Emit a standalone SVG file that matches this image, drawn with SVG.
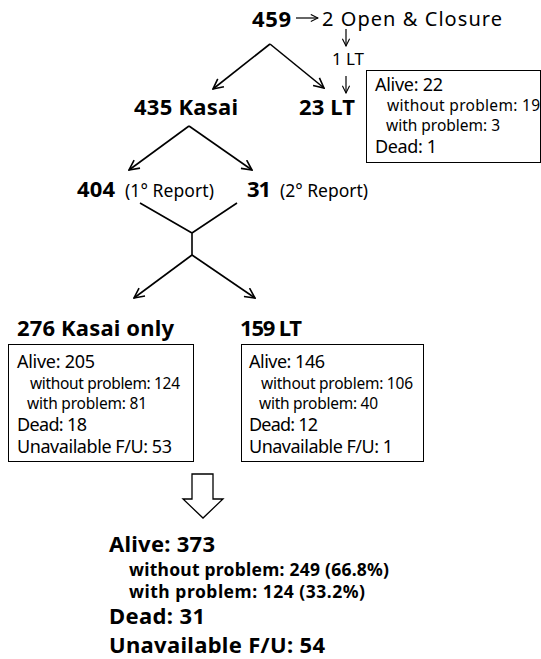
<svg xmlns="http://www.w3.org/2000/svg" width="541" height="659" viewBox="0 0 541 659">
<defs>
<marker id="ah" viewBox="0 0 12 12" refX="11" refY="6" markerWidth="12" markerHeight="12" markerUnits="userSpaceOnUse" orient="auto">
<path d="M1,1 L11,6 L1,11" fill="none" stroke="#000" stroke-width="1.6"/>
</marker>
<marker id="sh" viewBox="0 0 10 10" refX="9" refY="5" markerWidth="9" markerHeight="9" markerUnits="userSpaceOnUse" orient="auto">
<path d="M1,1 L9,5 L1,9" fill="none" stroke="#000" stroke-width="1.2"/>
</marker>
<style>
text{font-family:"Noto Sans","Noto Sans CJK KR",sans-serif;fill:#000}
.b{font-weight:bold;font-size:22px}
.sb{font-weight:bold;font-size:17.5px}
.m{font-size:18px}
.s{font-size:15.5px}
.box{fill:#fff;stroke:#000;stroke-width:1}
.ln{fill:none;stroke:#000;stroke-width:1.6}
.thin{fill:none;stroke:#000;stroke-width:1.2}
</style>
</defs>
<g id="connectors">
<path class="ln" d="M270,44 L213,89" marker-end="url(#ah)"/>
<path class="ln" d="M270,44 L324,88" marker-end="url(#ah)"/>
<path class="thin" d="M296,18 L318,18" marker-end="url(#sh)"/>
<path class="thin" d="M346,29 L346,46" marker-end="url(#sh)"/>
<path class="thin" d="M346,76 L346,93" marker-end="url(#sh)"/>
<path class="ln" d="M189,126 L129,170" marker-end="url(#ah)"/>
<path class="ln" d="M189,126 L252,170" marker-end="url(#ah)"/>
<path class="ln" d="M140,203 L192,233 L237,203 M192,233 L192,255"/>
<path class="ln" d="M192,255 L134,298" marker-end="url(#ah)"/>
<path class="ln" d="M192,255 L255,298" marker-end="url(#ah)"/>
</g>
<g id="n459">
<text x="252" y="27" class="b" textLength="39">459</text>
<text x="322" y="26" style="font-size:20px" textLength="180">2 Open &amp; Closure</text>
</g>
<g id="n1lt"><text x="332" y="65" style="font-size:17px" textLength="32">1 LT</text></g>
<g id="n435"><text x="134" y="115" class="b" textLength="104">435 Kasai</text></g>
<g id="n23">
<text x="299" y="115" class="b" textLength="56">23 LT</text>
<rect class="box" x="366.5" y="70.5" width="174" height="92"/>
<text x="375" y="91" class="m" textLength="68">Alive: 22</text>
<text x="387" y="111" class="s" textLength="153">without problem: 19</text>
<text x="386" y="131" class="s" textLength="114">with problem: 3</text>
<text x="375" y="153" class="m" textLength="62">Dead: 1</text>
</g>
<g id="n404">
<text x="77" y="197" class="b" textLength="38">404</text>
<text x="125" y="197" style="font-size:17.5px" textLength="89">(1° Report)</text>
</g>
<g id="n31">
<text x="247" y="197" class="b" textLength="24">31</text>
<text x="280" y="197" style="font-size:17.5px" textLength="88">(2° Report)</text>
</g>
<g id="n276">
<text x="17" y="336" class="b" textLength="157">276 Kasai only</text>
<rect class="box" x="8.5" y="344.5" width="185" height="117"/>
<text x="17" y="368" class="m" textLength="78">Alive: 205</text>
<text x="30" y="389" class="s" textLength="150">without problem: 124</text>
<text x="27" y="409" class="s" textLength="120">with problem: 81</text>
<text x="17" y="431" class="m" textLength="70">Dead: 18</text>
<text x="17" y="453" class="m" textLength="155">Unavailable  F/U: 53</text>
</g>
<g id="n159">
<text x="240" y="336" class="b" textLength="62">159 LT</text>
<rect class="box" x="241.5" y="344.5" width="182" height="117"/>
<text x="249" y="368" class="m" textLength="76">Alive: 146</text>
<text x="261" y="389" class="s" textLength="152">without problem: 106</text>
<text x="259" y="409" class="s" textLength="119">with problem: 40</text>
<text x="249" y="431" class="m" textLength="69">Dead: 12</text>
<text x="249" y="453" class="m" textLength="144">Unavailable  F/U: 1</text>
</g>
<g id="bigarrow">
<path d="M192,474 L213,474 L213,499 L223,499 L203,518 L183,499 L192,499 Z" fill="#fff" stroke="#000" stroke-width="1.3"/>
</g>
<g id="summary">
<text x="109" y="552" class="b" textLength="106">Alive: 373</text>
<text x="129" y="576" class="sb" textLength="260">without problem: 249 (66.8%)</text>
<text x="129" y="598" class="sb" textLength="236">with problem: 124 (33.2%)</text>
<text x="109" y="624" class="b" textLength="96">Dead: 31</text>
<text x="109" y="653" class="b" textLength="216">Unavailable F/U: 54</text>
</g>
</svg>
